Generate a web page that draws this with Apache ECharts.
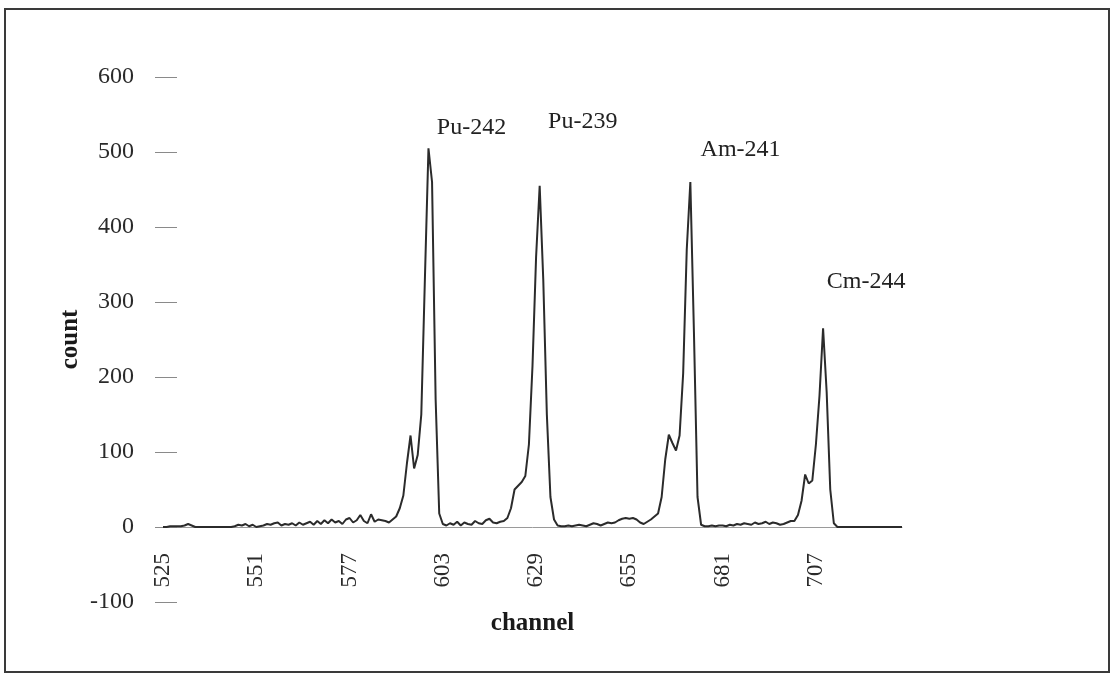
<!DOCTYPE html>
<html>
<head>
<meta charset="utf-8">
<title>alpha spectrum</title>
<script src="https://cdn.jsdelivr.net/npm/echarts@6/dist/echarts.min.js"></script>
<style>
  html, body { margin: 0; padding: 0; background: #fff; }
  #chart { width: 1114px; height: 679px; }
</style>
</head>
<body>
<div id="chart"></div>
<script>
// channel range of the spectrum
const firstChannel = 525;
const lastChannel = 731;

// counts per channel, 10 per row starting at 525
const counts = [
    0, 0, 1, 1, 1, 1, 2, 4, 2, 0,          // 525
    0, 0, 0, 0, 0, 0, 0, 0, 0, 0,          // 535
    1, 3, 2, 4, 1, 3, 0, 1, 2, 4,          // 545
    3, 5, 6, 2, 4, 3, 5, 2, 6, 3,          // 555
    5, 7, 3, 8, 4, 9, 5, 10, 6, 8,         // 565
    4, 10, 12, 6, 9, 16, 8, 5, 17, 7,      // 575
    10, 9, 8, 6, 10, 14, 25, 42, 85, 122,  // 585
    78, 96, 150, 330, 505, 460, 170, 18, 4, 2,   // 595
    5, 3, 7, 2, 6, 4, 3, 8, 5, 4,          // 605
    9, 11, 6, 5, 7, 8, 12, 25, 50, 55,     // 615
    60, 68, 110, 215, 360, 455, 330, 150, 40, 10, // 625
    2, 1, 1, 2, 1, 2, 3, 2, 1, 3,          // 635
    5, 4, 2, 4, 6, 5, 6, 9, 11, 12,        // 645
    11, 12, 10, 6, 4, 7, 10, 14, 18, 40,   // 655
    90, 123, 112, 102, 122, 205, 370, 460, 260, 40, // 665
    3, 1, 1, 2, 1, 2, 2, 1, 3, 2,          // 675
    4, 3, 5, 4, 3, 6, 4, 5, 7, 4,          // 685
    6, 5, 3, 4, 6, 8, 8, 16, 35, 70,       // 695
    58, 62, 110, 175, 265, 180, 50, 5, 0, 0, // 705
    0, 0, 0, 0, 0, 0, 0, 0, 0, 0,          // 715
    0, 0, 0, 0, 0, 0, 0                    // 725
];

// peak annotations (name, channel and count where the text sits)
const peakNames = ['Pu-242', 'Pu-239', 'Am-241', 'Cm-244'];
const peakChannels = [611, 642, 686, 721];
const peakLabelCounts = [532, 540, 503, 327];

// y axis
const yMin = -100;
const yMax = 600;
const yStep = 100;

const channels = [];
for (let c = firstChannel; c <= lastChannel; c++) channels.push(String(c));

const serif = "'Liberation Serif', 'Times New Roman', serif";
const chart = echarts.init(document.getElementById('chart'), null, { renderer: 'canvas' });

const markData = peakNames.map((n, i) => ({
    name: n,
    coord: [String(peakChannels[i]), peakLabelCounts[i]]
}));

// plot is 525px tall for 700 counts; the channel axis sits on count 0
const plotTop = 77, plotBottom = 77;
const zeroOffset = -(679 - plotTop - plotBottom) * (0 - yMin) / (yMax - yMin);

chart.setOption({
    animation: false,
    backgroundColor: '#fff',
    grid: { left: 163, right: 212, top: plotTop, bottom: plotBottom, outerBoundsMode: 'none', containLabel: false },
    xAxis: {
        type: 'category',
        data: channels,
        boundaryGap: false,
        offset: zeroOffset,
        name: 'channel',
        nameLocation: 'middle',
        nameGap: 84,
        nameMoveOverlap: false,
        nameTextStyle: { fontFamily: serif, fontSize: 25, fontWeight: 'bold', color: '#1a1a1a' },
        axisLine: { onZero: false, lineStyle: { color: '#9a9a9a', width: 1 } },
        axisTick: { show: false },
        axisLabel: {
            interval: 25,
            rotate: 90,
            margin: 26,
            fontFamily: serif,
            fontSize: 23,
            color: '#2a2a2a'
        },
        splitLine: { show: false }
    },
    yAxis: [{
        type: 'value',
        min: yMin,
        max: yMax,
        interval: yStep,
        name: 'count',
        nameLocation: 'middle',
        nameRotate: 90,
        nameGap: 80,
        nameMoveOverlap: false,
        nameTextStyle: { fontFamily: serif, fontSize: 25, fontWeight: 'bold', color: '#1a1a1a' },
        axisLine: { show: false },
        axisTick: { show: true, length: 8, lineStyle: { color: '#8a8a8a' } },
        axisLabel: { margin: 29, fontFamily: serif, fontSize: 24, color: '#2a2a2a' },
        splitLine: { show: false }
    }, {
        type: 'value',
        position: 'left',
        min: yMin,
        max: yMax,
        interval: yStep,
        axisLine: { show: false },
        axisTick: { show: true, inside: true, length: 14, lineStyle: { color: '#8a8a8a' } },
        axisLabel: { show: false },
        splitLine: { show: false }
    }],
    series: [{
        type: 'line',
        data: counts,
        yAxisIndex: 0,
        showSymbol: false,
        smooth: false,
        lineStyle: { color: '#2b2b2b', width: 2 },
        markPoint: {
            symbol: 'circle',
            symbolSize: 1,
            itemStyle: { color: 'rgba(0,0,0,0)' },
            label: {
                show: true,
                position: 'inside',
                formatter: p => p.name,
                fontFamily: serif,
                fontSize: 24,
                color: '#222'
            },
            data: markData
        }
    }],
    graphic: [{
        type: 'rect',
        shape: { x: 5, y: 9, width: 1104, height: 663 },
        style: { fill: 'none', stroke: '#3a3a3a', lineWidth: 2 },
        silent: true
    }]
});
</script>
</body>
</html>
